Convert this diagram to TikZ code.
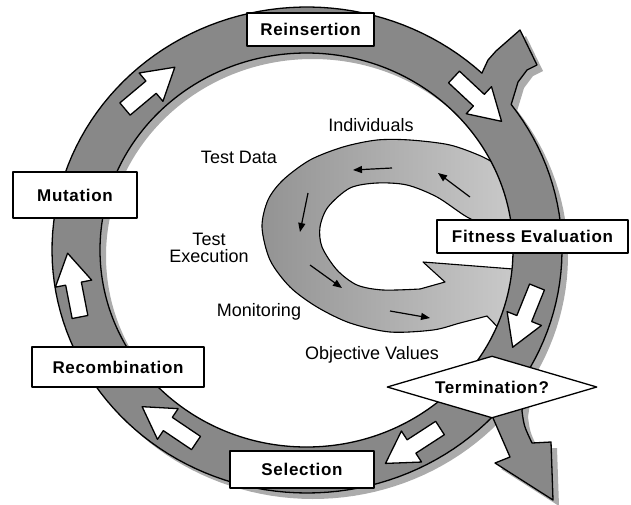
\documentclass[tikz,border=0pt]{standalone}
\usepackage{fontspec}
\setmainfont{Liberation Sans}
\newfontfamily\stagefont[LetterSpace=4]{Liberation Sans}
\usepackage{tikz}
\usetikzlibrary{arrows.meta,shapes.geometric}
\definecolor{ringgray}{HTML}{888888}
\definecolor{shadowgray}{HTML}{ABABAB}
\definecolor{loopdark}{HTML}{939393}
\definecolor{looplight}{HTML}{CECECE}
% outer loop with its entry tail, and the exit branch
\newcommand{\ringpath}{plot[domain=-36.8:313.3, samples=150] ({307+255*cos(\x)}, {250+243*sin(\x)})
  -- (488,60) -- (496,51) -- (520,30) -- (537,65) -- (527,70) -- (518,82) -- (515,92) -- cycle
  (306.5,250) ellipse[x radius=206.5, y radius=197]}
\newcommand{\exitpath}{(486,392) -- (493,418) .. controls (501,438) .. (510,457) -- (495,463)
  -- (553,500) -- (551,442) -- (532,443) .. controls (524,426) .. (522,411) -- (526,384) -- cycle}

\begin{document}
\begin{tikzpicture}[
    x=1pt, y=-1pt,
    line width=1.3pt, line join=round,
    every node/.style={inner sep=0pt, align=center, font=\fontsize{18}{17}\selectfont},
    stagebox/.style={draw, fill=white, font=\stagefont\bfseries\fontsize{17}{20}\selectfont},
    flowarrow/.style={-{Triangle[length=9pt, width=7pt]}, line width=1.2pt},
    blockarrow/.pic={
      \draw[fill=white] (0,-8) -- (34,-8) -- (34,-18.5) -- (65,0) -- (34,18.5) -- (34,8) -- (0,8) -- cycle;
    }
]
  \useasboundingbox (0,0) rectangle (631,504);

  % inner loop
  \filldraw[left color=loopdark, right color=looplight, line width=1.1pt]
    plot[smooth] coordinates {(524,190) (500,168) (483,157) (450,145) (410,140) (377,140) (343,147)
      (310,160) (283,180) (268,200) (262,227) (270,260) (290,287) (317,307) (350,323) (390,332)
      (433,330) (460,323) (487,316)}
    -- (514,344) -- (536,300) -- (526,270) -- (423,262) -- (445,282)
    -- plot[smooth] coordinates {(420,289) (383,290) (357,285) (337,270) (322,247) (320,227)
      (328,207) (350,188) (377,183) (407,185) (437,197) (467,217) (495,230)}
    -- (526,230) -- cycle;

  \draw[flowarrow] (392,168) -- (353,170);
  \draw[flowarrow] (470,197) -- (438,173);
  \draw[flowarrow] (308,193) -- (300,232);
  \draw[flowarrow] (310,265) -- (342,288);
  \draw[flowarrow] (390,311) -- (430,318);

  % outer loop
  \fill[shadowgray, even odd rule, shift={(6,6)}] \ringpath;
  \fill[shadowgray, shift={(6,6)}] \exitpath;
  \filldraw[fill=ringgray] \exitpath;
  \filldraw[fill=ringgray, even odd rule] \ringpath;

  \pic[rotate=40] at (125,109) {blockarrow};
  \pic[rotate=-43] at (454,77) {blockarrow};
  \pic[rotate=-112] at (537,287) {blockarrow};
  \pic[rotate=-147] at (440,428) {blockarrow};
  \pic[rotate=146] at (196,443) {blockarrow};
  \pic[rotate=101] at (80,317) {blockarrow};

  % labels
  \node (indiv) at (371,125) {Individuals};
  \node (testdata) at (239,157) {Test Data};
  \node (testexec) at (209,248) {Test\\Execution};
  \node (monitor) at (259,312) {Monitoring};
  \node (objval) at (372,355) {Objective Values};

  % stages
  \node[stagebox, minimum width=127pt, minimum height=33pt] (reins) at (310.5,29.5) {Reinsertion};
  \node[stagebox, minimum width=191pt, minimum height=33pt] (fitness) at (532.5,236.5) {Fitness Evaluation};
  \node[stagebox, minimum width=124pt, minimum height=46pt] (mutation) at (75,195) {Mutation};
  \node[stagebox, minimum width=172pt, minimum height=40pt] (recomb) at (118,367) {Recombination};
  \node[stagebox, minimum width=144pt, minimum height=37pt] (select) at (302,469.5) {Selection};
  \node[stagebox, diamond, aspect=3.4, minimum width=210pt, minimum height=62pt] (term) at (492,387) {Termination?};
\end{tikzpicture}
\end{document}
